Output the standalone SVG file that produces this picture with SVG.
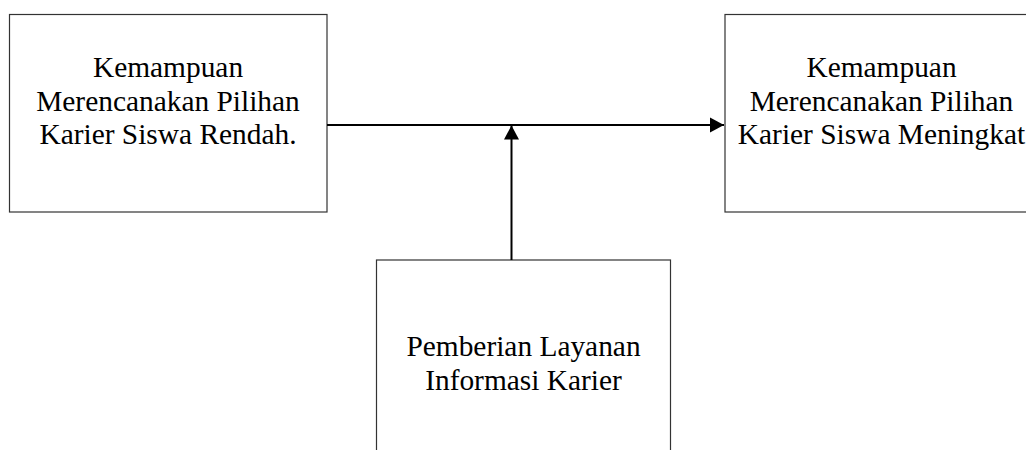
<svg xmlns="http://www.w3.org/2000/svg" width="1026" height="450" viewBox="0 0 1026 450">
<style>
.box{fill:#fff;stroke:#333;stroke-width:1.2}
.t{font-family:"Liberation Serif","Times New Roman",serif;font-size:29.4px;fill:#000;text-anchor:middle}
.c{stroke:#000;stroke-width:2;fill:none}
</style>
<defs>
<marker id="ah" markerWidth="16" markerHeight="16" refX="14" refY="8" orient="auto" markerUnits="userSpaceOnUse">
<path d="M0,0.5 L14,8 L0,15.5 Z" fill="#000"/>
</marker>
</defs>
<rect width="1026" height="450" fill="#fff"/>
<g id="node-low">
<rect class="box" x="9.5" y="14.5" width="317.5" height="197.5"/>
<text class="t" x="168" y="77">Kemampuan</text>
<text class="t" x="168" y="110.5">Merencanakan Pilihan</text>
<text class="t" x="168" y="144">Karier Siswa Rendah.</text>
</g>
<g id="node-high">
<rect class="box" x="725" y="14.5" width="317.5" height="197.5"/>
<text class="t" x="881.5" y="77">Kemampuan</text>
<text class="t" x="881.5" y="110.5">Merencanakan Pilihan</text>
<text class="t" x="881.5" y="144">Karier Siswa Meningkat</text>
</g>
<g id="node-service">
<rect class="box" x="376.5" y="260" width="294" height="200"/>
<text class="t" x="523.5" y="356">Pemberian Layanan</text>
<text class="t" x="523.5" y="390">Informasi Karier</text>
</g>
<g id="connectors">
<line class="c" x1="327" y1="125" x2="724" y2="125" marker-end="url(#ah)"/>
<line class="c" x1="511.5" y1="260" x2="511.5" y2="125.5" marker-end="url(#ah)"/>
</g>
</svg>
